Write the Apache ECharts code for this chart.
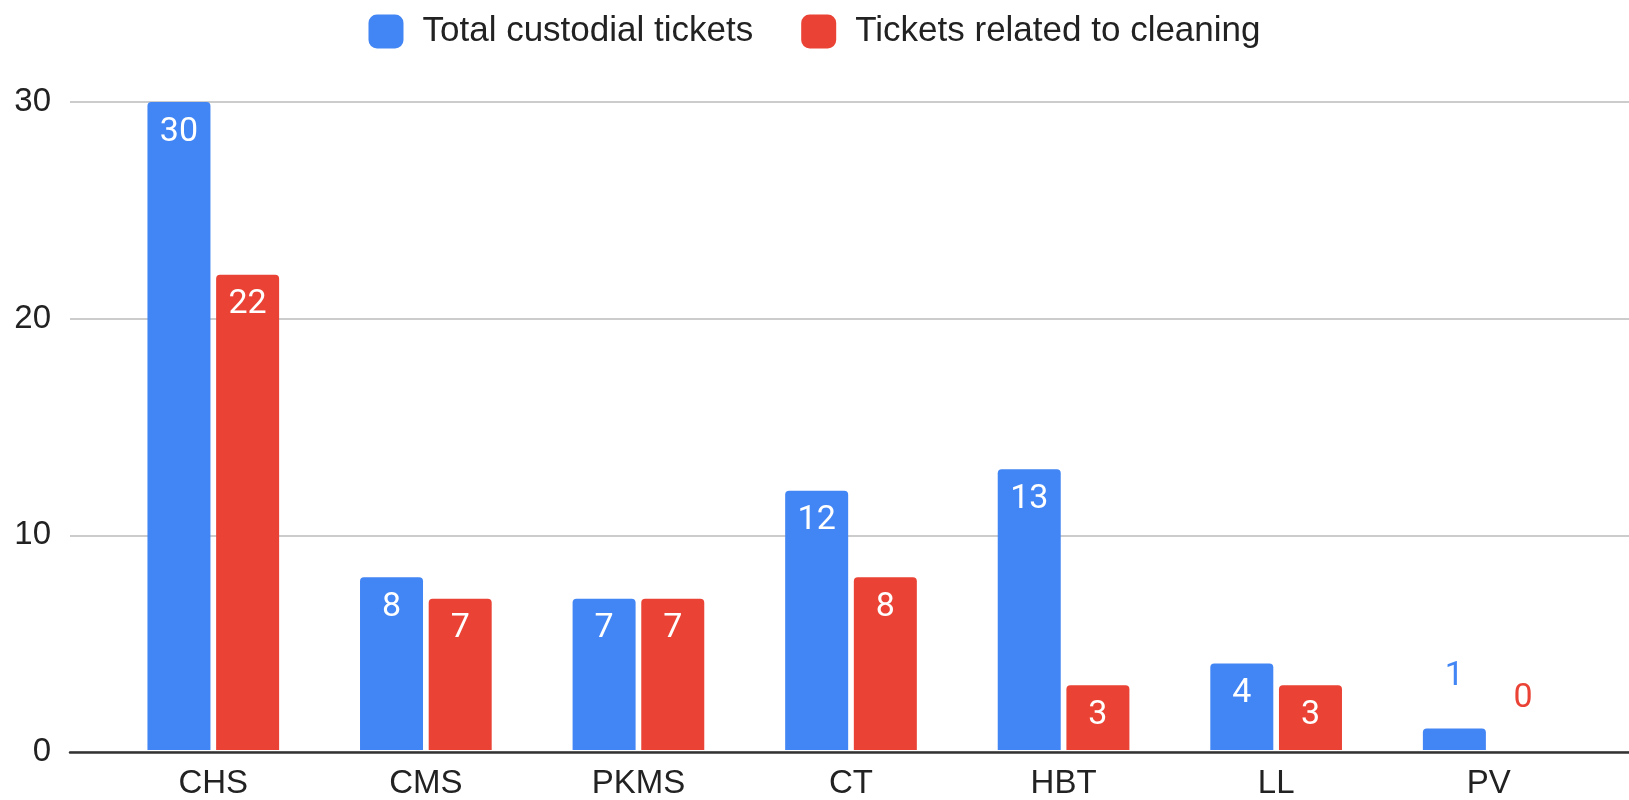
<!DOCTYPE html>
<html>
<head>
<meta charset="utf-8">
<script src="https://cdn.jsdelivr.net/npm/echarts@6/dist/echarts.min.js"></script>
<style>
html,body{margin:0;padding:0;background:#fff;}
#chart{width:1629px;height:800px;}
</style>
</head>
<body>
<div id="chart"></div>
<script>
const categories = ['CHS', 'CMS', 'PKMS', 'CT', 'HBT', 'LL', 'PV'];
const totalTickets = [30, 8, 7, 12, 13, 4, 1];
const cleaningTickets = [22, 7, 7, 8, 3, 3, 0];
const seriesNames = ['Total custodial tickets', 'Tickets related to cleaning'];
const seriesColors = ['#4285F4', '#EA4335'];
const yTicks = [0, 10, 20, 30];

const AXIS_FONT = 'Liberation Sans';
const LABEL_FONT = 'Roboto';

function buildData(values, color) {
  return values.map(v => {
    if (v <= 1) {
      return {
        value: v,
        label: { position: 'top', distance: 35, color: color }
      };
    }
    return v;
  });
}

const chart = echarts.init(document.getElementById('chart'), null, { renderer: 'canvas' });

const yMin = yTicks[0];
const yMax = yTicks[yTicks.length - 1];
const yInterval = yTicks[1] - yTicks[0];

chart.setOption({
  animation: false,
  backgroundColor: '#ffffff',
  legend: {
    top: 9,
    left: 'center',
    itemWidth: 35,
    itemHeight: 34,
    itemGap: 48,
    icon: 'roundRect',
    itemStyle: { borderRadius: 3 },
    textStyle: {
      fontSize: 35,
      fontFamily: AXIS_FONT,
      color: '#222222',
      padding: [0, 0, 0, 14]
    },
    data: seriesNames
  },
  grid: [
    { left: 70, right: 0, top: 102, bottom: 48, containLabel: false },
    { left: 107, right: 34, top: 102, bottom: 48, containLabel: false }
  ],
  xAxis: [
    {
      gridIndex: 0,
      type: 'category',
      data: [''],
      axisLine: { show: true, lineStyle: { color: '#333333', width: 2.5 } },
      axisTick: { show: false },
      axisLabel: { show: false },
      splitLine: { show: false },
      z: 5
    },
    {
      gridIndex: 1,
      type: 'category',
      data: categories,
      axisLine: { show: false },
      axisTick: { show: false },
      axisLabel: {
        margin: 17,
        fontSize: 33,
        fontFamily: AXIS_FONT,
        color: '#222222'
      }
    }
  ],
  yAxis: [
    {
      gridIndex: 0,
      type: 'value',
      min: yMin,
      max: yMax,
      interval: yInterval,
      axisLine: { show: false },
      axisTick: { show: false },
      axisLabel: {
        margin: 19,
        fontSize: 33,
        fontFamily: AXIS_FONT,
        color: '#222222'
      },
      splitLine: { show: true, lineStyle: { color: '#cccccc', width: 2 } }
    },
    {
      gridIndex: 1,
      type: 'value',
      min: yMin,
      max: yMax,
      interval: yInterval,
      show: false,
      splitLine: { show: false }
    }
  ],
  series: [
    {
      name: seriesNames[0],
      type: 'bar',
      xAxisIndex: 1,
      yAxisIndex: 1,
      barWidth: 63,
      barGap: '9%',
      itemStyle: { color: seriesColors[0], borderRadius: [4, 4, 0, 0] },
      label: {
        show: true,
        position: 'insideTop',
        distance: 13,
        fontSize: 34,
        fontFamily: LABEL_FONT,
        color: '#ffffff'
      },
      data: buildData(totalTickets, seriesColors[0])
    },
    {
      name: seriesNames[1],
      type: 'bar',
      xAxisIndex: 1,
      yAxisIndex: 1,
      barWidth: 63,
      barGap: '9%',
      itemStyle: { color: seriesColors[1], borderRadius: [4, 4, 0, 0] },
      label: {
        show: true,
        position: 'insideTop',
        distance: 13,
        fontSize: 34,
        fontFamily: LABEL_FONT,
        color: '#ffffff'
      },
      data: buildData(cleaningTickets, seriesColors[1])
    }
  ]
});
</script>
</body>
</html>
